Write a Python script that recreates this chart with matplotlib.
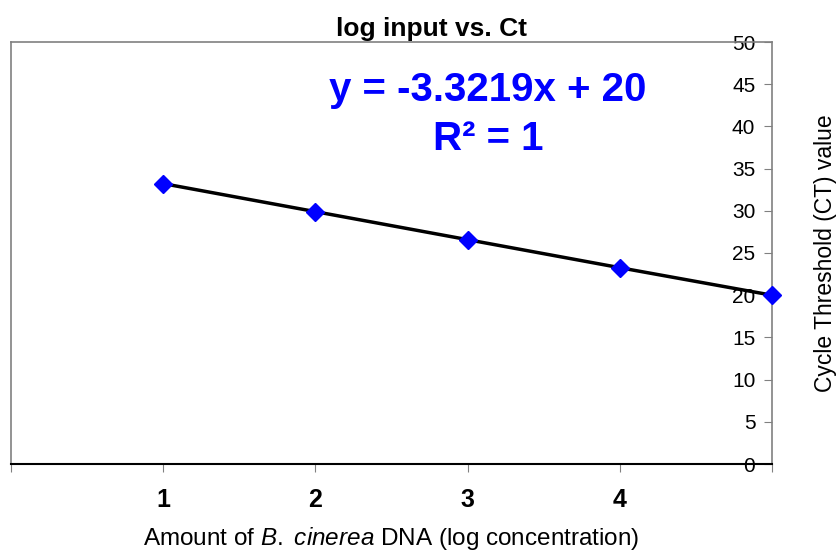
import numpy as np
import matplotlib.pyplot as plt

# data
log_input = [1, 2, 3, 4, 5]
ct_values = [33.22, 29.90, 26.58, 23.26, 20.0]
x_tick_labels = ["1", "2", "3", "4", ""]
y_ticks = [0, 5, 10, 15, 20, 25, 30, 35, 40, 45, 50]

plt.rcParams['font.family'] = ['Liberation Sans', 'DejaVu Sans']
plt.rcParams['mathtext.fontset'] = 'custom'
plt.rcParams['mathtext.rm'] = 'Liberation Sans'
plt.rcParams['mathtext.it'] = 'Liberation Sans:italic'

fig = plt.figure(figsize=(8.36, 5.52), dpi=100)
ax = fig.add_axes([11 / 836, 1 - 464 / 552, 761 / 836, 422 / 552])

ax.set_xlim(0, 5)
ax.set_ylim(0, 50)

# trend line then the points
ax.plot(log_input, ct_values, color='black', lw=2.5, zorder=2, clip_on=False)
ax.plot(log_input, ct_values, ls='none', marker='D', ms=9, color='#0000FF',
        zorder=3, clip_on=False)

for s in ['top', 'left', 'right']:
    ax.spines[s].set_color('#808080')
    ax.spines[s].set_linewidth(1.2)
ax.spines['bottom'].set_color('black')
ax.spines['bottom'].set_linewidth(1.5)

ax.set_xticks([0] + log_input)
ax.set_xticklabels([""] + x_tick_labels, fontsize=18, fontweight='bold')
ax.tick_params(axis='x', direction='out', length=6, color='#808080', pad=11)

ax.yaxis.tick_right()
ax.set_yticks(y_ticks)
ax.set_yticklabels([str(v) for v in y_ticks], fontsize=15)
ax.tick_params(axis='y', direction='in', length=6, color='#808080', pad=-12)
for lab in ax.get_yticklabels():
    lab.set_horizontalalignment('right')

ax.set_title("log input vs. Ct", fontsize=19, fontweight='bold', x=0.552, pad=4)
ax.set_xlabel("Amount of $\\it{B.}$ $\\it{cinerea}$ DNA (log concentration)",
              fontsize=17.5, labelpad=10)
ax.yaxis.set_label_position('right')
ax.set_ylabel("Cycle Threshold (CT) value", fontsize=16.5, labelpad=30)

ax.text(0.627, 0.887, "y = -3.3219x + 20", transform=ax.transAxes, ha='center',
        va='center', fontsize=29, fontweight='bold', color='#0000FF')
ax.text(0.627, 0.77, "R² = 1", transform=ax.transAxes, ha='center',
        va='center', fontsize=29, fontweight='bold', color='#0000FF')

fig.savefig("out.png", dpi=100)
